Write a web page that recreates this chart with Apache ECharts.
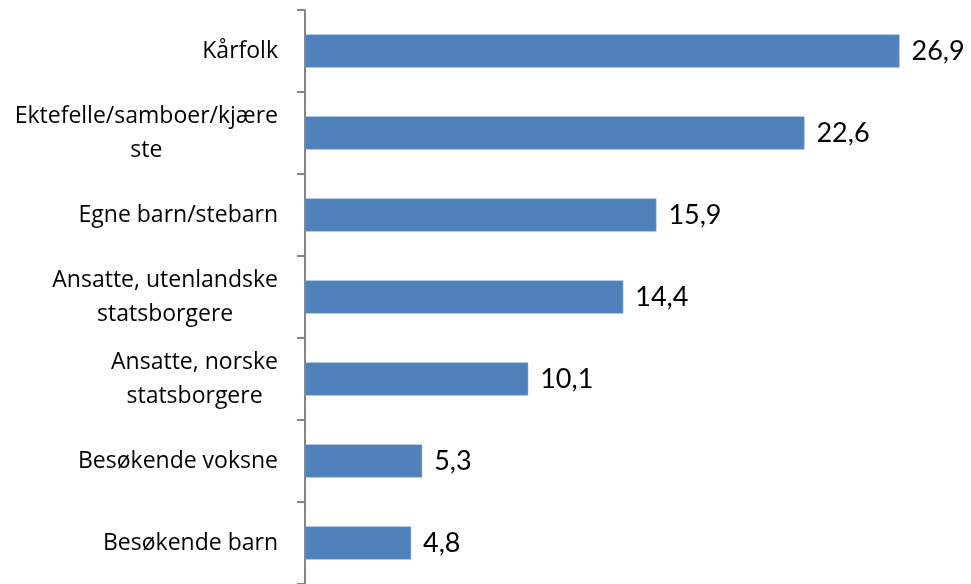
<!DOCTYPE html>
<html><head><meta charset="utf-8">
<script src="https://cdn.jsdelivr.net/npm/echarts@6/dist/echarts.min.js"></script>
<style>html,body{margin:0;padding:0;background:#fff}#c{width:971px;height:584px}</style>
</head><body><div id="c"></div>
<script>
const categories = ["Kårfolk", "Ektefelle/samboer/kjære\nste", "Egne barn/stebarn", "Ansatte, utenlandske\nstatsborgere", "Ansatte, norske\nstatsborgere", "Besøkende voksne", "Besøkende barn"];
const values = [26.9, 22.6, 15.9, 14.4, 10.1, 5.3, 4.8];
const valueLabels = ["26,9", "22,6", "15,9", "14,4", "10,1", "5,3", "4,8"];

const chart = echarts.init(document.getElementById('c'), null, {renderer: 'canvas'});
chart.setOption({
  animation: false,
  grid: {left: 305, right: 3, top: 10, bottom: 0, containLabel: false},
  xAxis: {type: 'value', min: 0, max: 30, show: false},
  yAxis: {
    type: 'category', data: categories, inverse: true,
    axisLine: {show: true, lineStyle: {color: '#868686', width: 2}},
    axisTick: {show: true, length: 8, lineStyle: {color: '#868686', width: 2}},
    axisLabel: {
      margin: 27, align: 'right', color: '#000', fontFamily: 'Open Sans', fontSize: 23,
      lineHeight: 34,
      formatter: function (v) { return v.split('\n').map(function (s) { return '{c|' + s + '}'; }).join('\n'); },
      rich: {c: {align: 'center', fontFamily: 'Open Sans', fontSize: 23, lineHeight: 34, color: '#000'}}
    },
    splitLine: {show: false}
  },
  series: [{
    type: 'bar', data: values, barWidth: 33,
    itemStyle: {color: '#4F81BD', borderColor: '#7A9FD0', borderWidth: 0.5},
    label: {
      show: true, position: 'right', distance: 12, color: '#000',
      fontFamily: 'Lato', fontSize: 27,
      formatter: function (p) { return valueLabels[p.dataIndex]; }
    }
  }]
});
</script></body></html>
